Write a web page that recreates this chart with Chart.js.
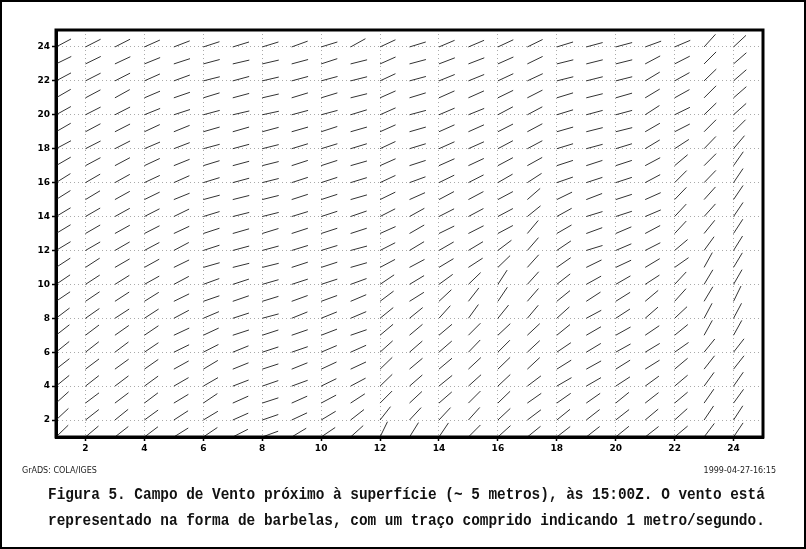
<!DOCTYPE html>
<html>
<head>
<meta charset="utf-8">
<script src="https://cdn.jsdelivr.net/npm/chart.js@4/dist/chart.umd.min.js"></script>
<style>
  body { margin: 0; background: #fff; }
  #pagina { position: relative; width: 806px; height: 549px; box-sizing: border-box; border: 2px solid #000; overflow: hidden; }
  #grafico { position: absolute; left: -2px; top: -2px; }
  .rodape { position: absolute; top: 464px; font: 8px "DejaVu Sans", sans-serif; color: #222; }
  .legenda { position: absolute; left: 46px; font: bold 14.4px "Liberation Mono", monospace; white-space: pre; transform: scaleY(1.2); transform-origin: left center; color: #111; }
</style>
</head>
<body>
<div id="pagina">
  <canvas id="grafico" width="806" height="470"></canvas>
  <div class="rodape" style="left:20px;">GrADS: COLA/IGES</div>
  <div class="rodape" style="right:28px;">1999-04-27-16:15</div>
  <div class="legenda" style="top:484px;">Figura 5. Campo de Vento próximo à superfície (~ 5 metros), às 15:00Z. O vento está</div>
  <div class="legenda" style="top:510px;">representado na forma de barbelas, com um traço comprido indicando 1 metro/segundo.</div>
</div>
<script>
// pontos de grade
const xValores = [1, 2, 3, 4, 5, 6, 7, 8, 9, 10, 11, 12, 13, 14, 15, 16, 17, 18, 19, 20, 21, 22, 23, 24];
const yValores = [24, 23, 22, 21, 20, 19, 18, 17, 16, 15, 14, 13, 12, 11, 10, 9, 8, 7, 6, 5, 4, 3, 2, 1];
const ticksEixo = [2, 4, 6, 8, 10, 12, 14, 16, 18, 20, 22, 24];

// direção das barbelas (graus acima da horizontal), uma linha por valor de y
const angulos = [
  [28,27,27,24,21,18,17,17, 20,17,29,25,17,23,23,25, 26,17,15,15,20,23,48,43],
  [26,26,25,22,18,15,13,13, 15,18,14,24,15,21,21,24, 26,14,14,14,28,27,45,41],
  [28,27,27,24,20,14,15,13, 15,15,14,25,15,22,22,25, 25,14,14,14,31,29,44,41],
  [30,28,29,23,19,17,15,13, 17,17,14,24,17,24,24,26, 27,17,14,16,31,29,45,41],
  [29,27,27,22,18,15,13,12, 15,15,17,24,15,23,22,28, 28,17,15,15,33,26,44,42],
  [30,28,27,25,22,16,16,15, 16,18,16,24,16,24,24,27, 28,16,14,14,30,27,45,45],
  [28,27,27,23,21,15,15,14, 17,17,17,25,17,24,24,28, 28,17,15,17,31,33,46,50],
  [30,28,28,25,22,17,15,14, 18,18,16,24,18,24,25,28, 29,18,18,18,28,40,45,55],
  [32,30,29,25,24,17,15,14, 18,18,17,25,20,26,27,30, 33,19,18,18,28,45,46,56],
  [32,31,29,26,22,15,14,14, 18,18,16,26,24,28,28,28, 41,26,21,18,24,46,48,56],
  [31,30,29,27,26,17,14,14, 17,18,19,27,29,27,28,28, 39,29,17,18,23,47,48,56],
  [31,30,29,27,25,18,16,17, 18,18,18,24,30,26,27,28, 50,30,20,23,28,47,51,57],
  [31,30,30,28,28,18,15,15, 17,17,15,27,31,30,31,37, 49,34,17,23,27,40,54,58],
  [33,33,30,29,26,16,14,14, 18,18,16,28,28,31,33,44, 48,35,26,25,31,35,61,59],
  [34,33,32,29,28,20,18,16, 18,18,20,34,31,36,44,57, 48,38,29,30,33,47,59,60],
  [34,34,33,32,26,19,19,17, 20,20,23,37,32,43,52,56, 49,39,33,32,40,48,59,64],
  [37,35,33,33,28,23,18,15, 22,22,23,39,39,48,54,51, 50,42,28,33,41,43,62,62],
  [38,37,35,34,25,25,18,18, 19,21,19,40,40,40,45,43, 43,39,30,29,34,39,61,61],
  [39,38,37,34,26,27,22,18, 19,23,24,42,41,41,46,45, 43,34,31,29,31,35,51,52],
  [38,37,36,35,29,31,22,18, 22,25,25,44,40,40,43,44, 43,32,29,32,32,40,52,52],
  [39,38,37,36,30,30,21,19, 20,26,28,44,41,39,42,43, 37,30,30,33,36,40,54,55],
  [42,37,37,37,31,34,24,18, 24,28,33,45,43,41,45,44, 35,35,35,39,38,40,55,54],
  [43,38,39,36,33,31,24,19, 25,31,38,52,47,47,48,43, 37,39,38,38,40,42,56,57],
  [44,40,38,37,32,34,27,20, 31,34,42,64,58,56,45,42, 39,38,38,39,38,40,53,56]
];

const comprimento = 17;

const pontos = [];
yValores.forEach((y, i) => {
  xValores.forEach((x, j) => {
    pontos.push({ x: x, y: y, ang: angulos[i][j] });
  });
});

const barbelas = {
  id: 'barbelas',
  afterDatasetsDraw(chart) {
    const ctx = chart.ctx;
    const meta = chart.getDatasetMeta(0);
    ctx.save();
    ctx.strokeStyle = '#333';
    ctx.lineWidth = 1;
    ctx.beginPath();
    meta.data.forEach((el, k) => {
      const a = pontos[k].ang * Math.PI / 180;
      ctx.moveTo(el.x, el.y);
      ctx.lineTo(el.x + comprimento * Math.cos(a), el.y - comprimento * Math.sin(a));
    });
    ctx.stroke();
    ctx.restore();
  },
  afterDraw(chart) {
    const a = chart.chartArea;
    const ctx = chart.ctx;
    ctx.save();
    ctx.strokeStyle = '#000';
    ctx.lineWidth = 3;
    ctx.strokeRect(a.left, a.top, a.right - a.left, a.bottom - a.top);
    ctx.restore();
  }
};

const eixo = (lado) => ({
  type: 'linear',
  min: 1,
  max: 25,
  afterBuildTicks: s => { s.ticks = ticksEixo.map(v => ({ value: v })); },
  afterFit: s => { if (lado === 'x') s.height = 33; else s.width = 56; },
  grid: { color: '#aaa', lineWidth: 1, tickLength: 4, tickColor: '#000', tickWidth: 1.5 },
  border: { display: true, color: '#000', width: 3, dash: [1, 3] },
  ticks: {
    color: '#000',
    padding: 2,
    font: { family: 'DejaVu Sans', size: 9, weight: 'bold' }
  }
});

new Chart(document.getElementById('grafico'), {
  type: 'scatter',
  data: {
    datasets: [{
      data: pontos,
      pointRadius: 0,
      pointHoverRadius: 0
    }]
  },
  options: {
    responsive: false,
    animation: false,
    layout: { padding: { top: 30, right: 43, left: 0, bottom: 0 } },
    plugins: { legend: { display: false }, tooltip: { enabled: false } },
    scales: { x: eixo('x'), y: eixo('y') }
  },
  plugins: [barbelas]
});
</script>
</body>
</html>
